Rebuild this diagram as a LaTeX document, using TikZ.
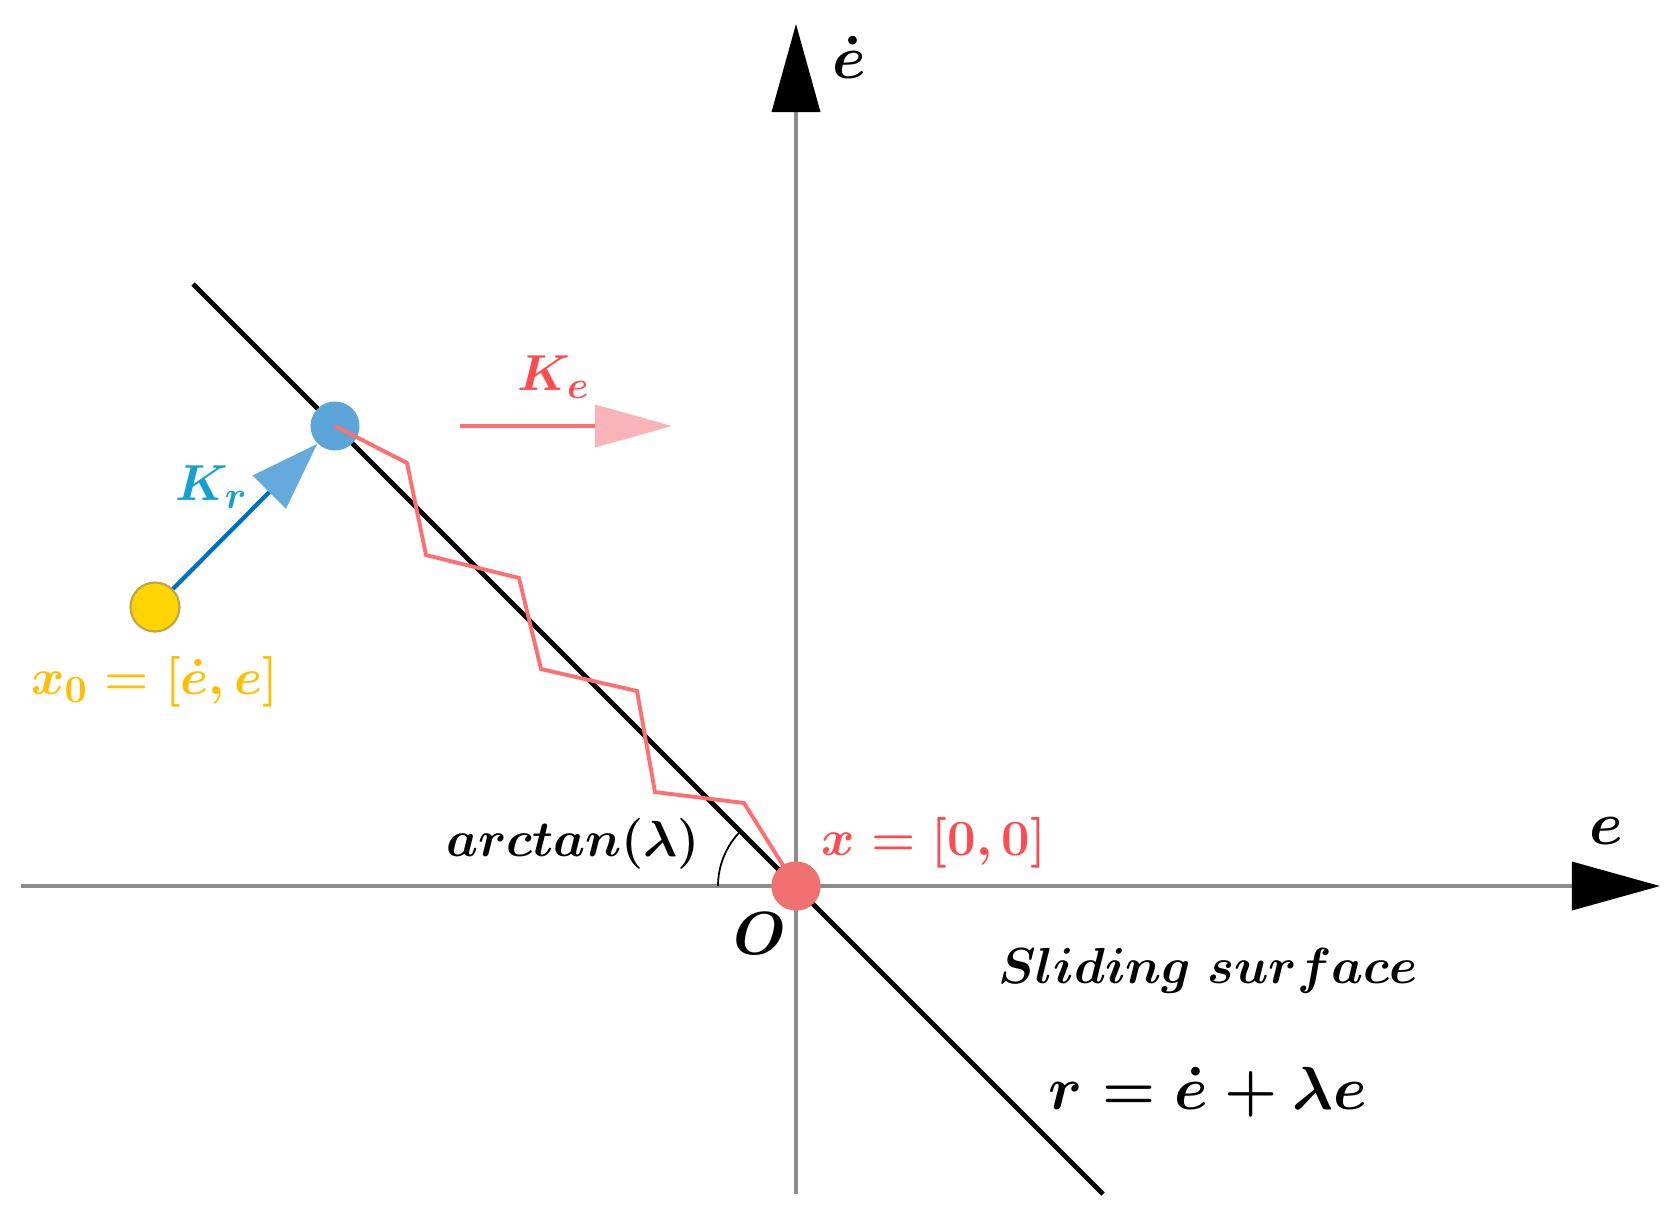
\documentclass[tikz,border=0pt]{standalone}
\usepackage{amsmath}
\usepackage{tikz}
\usetikzlibrary{arrows.meta}

\definecolor{axisgray}{RGB}{140,140,140}
\definecolor{zred}{RGB}{255,110,112}
\definecolor{lred}{RGB}{255,75,80}
\definecolor{kefill}{RGB}{250,180,185}
\definecolor{odot}{RGB}{240,112,112}
\definecolor{bdot}{RGB}{92,165,216}
\definecolor{krblue}{RGB}{0,112,192}
\definecolor{krfill}{RGB}{100,170,220}
\definecolor{lblue}{RGB}{20,160,210}
\definecolor{ydot}{RGB}{255,212,0}
\definecolor{yedge}{RGB}{190,165,70}
\definecolor{lyellow}{RGB}{255,190,0}

\tikzset{
  axis/.style={draw=axisgray, line width=1pt, -{Triangle[length=0.88cm,width=0.48cm,black]}},
  surface/.style={draw=black, line width=1.4pt},
  chatter/.style={draw=zred, line width=1.1pt},
  dot/.style={circle, minimum size=0.49cm, inner sep=0pt},
  lbl/.style={font=\fontsize{15.4}{18}\selectfont\boldmath, inner sep=1pt},
  biglbl/.style={font=\fontsize{18.5}{22}\selectfont\boldmath, inner sep=1pt},
}

\begin{document}
\begin{tikzpicture}[x=0.01cm,y=-0.01cm]
    \useasboundingbox (0,0) rectangle (1679,1223);

    % axes
    \coordinate (xl) at (21,886);
    \coordinate (xr) at (1660,886);
    \coordinate (yb) at (796,1194);
    \coordinate (yt) at (796,24);
    \path[axis] (xl) -- (xr);
    \path[axis] (yb) -- (yt);

    % sliding surface
    \coordinate (sa) at (193,284);
    \coordinate (sb) at (1103,1194);
    \path[surface] (sa) -- (sb);

    % angle
    \draw[line width=0.5pt] (718,886) arc[start angle=180, end angle=225, radius=78];

    \node[dot, fill=bdot] (reach) at (335,426) {};

    % chattering
    \coordinate (c1) at (407,463);
    \coordinate (c2) at (426,555);
    \coordinate (c3) at (519,578);
    \coordinate (c4) at (541,669);
    \coordinate (c5) at (637,691);
    \coordinate (c6) at (655,792);
    \coordinate (c7) at (744,803);
    \node[dot, fill=odot] (orig) at (796,886) {};
    \path[chatter] (reach.center) -- (c1) -- (c2) -- (c3) -- (c4) -- (c5) -- (c6) -- (c7) -- (orig.center);
    \node[dot, fill=odot] at (orig) {};

    \node[dot, fill=ydot, draw=yedge, line width=0.6pt] (init) at (155,607) {};
    \draw[draw=krblue, line width=1.2pt, -{Triangle[length=0.68cm,width=0.46cm,krfill]}] (init) -- (reach);

    \coordinate (kes) at (460,426);
    \coordinate (kee) at (672,426);
    \draw[draw=zred, line width=1.1pt, -{Triangle[length=0.77cm,width=0.42cm,kefill]}] (kes) -- (kee);

    \node[biglbl] (ldot) at (849,57) {$\dot{e}$};
    \node[biglbl] (le) at (1606,831) {$e$};
    \node[biglbl] (lo) at (760,934) {$O$};
    \node[lbl] (lang) at (573,844) {$arctan(\lambda)$};
    \node[lbl, text=lred] (lorig) at (934,843) {$x=[0,0]$};
    \node[lbl] (lsurf) at (1208,971) {$Sliding\ surface$};
    \node[biglbl] (leq) at (1208,1092) {$r=\dot{e}+\lambda e$};
    \node[lbl, text=lred] (lke) at (554,377) {$K_e$};
    \node[lbl, text=lblue] (lkr) at (212,487) {$K_r$};
    \node[lbl, text=lyellow] (linit) at (155,682) {$x_0=[\dot{e},e]$};

    \end{tikzpicture}
\end{document}
